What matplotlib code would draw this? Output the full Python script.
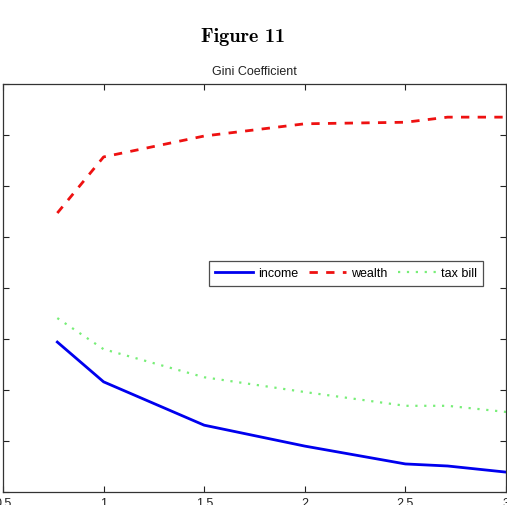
import numpy as np
import matplotlib
matplotlib.use("Agg")
import matplotlib.pyplot as plt

# parameter values on the x axis
x_vals = [0.77, 1.0, 1.5, 2.0, 2.5, 2.71, 3.0]

# gini coefficients
income = [0.494, 0.416, 0.331, 0.290, 0.255, 0.251, 0.239]
wealth = [0.747, 0.857, 0.898, 0.922, 0.925, 0.935, 0.935]
tax_bill = [0.541, 0.480, 0.425, 0.396, 0.369, 0.369, 0.357]

x_ticks = [0.5, 1, 1.5, 2, 2.5, 3]
x_tick_labels = ["0.5", "1", "1.5", "2", "2.5", "3"]
y_ticks = [0.2, 0.3, 0.4, 0.5, 0.6, 0.7, 0.8, 0.9, 1.0]

plt.rcParams["font.family"] = ["Liberation Sans", "DejaVu Sans"]

W, H = 507, 506
fig = plt.figure(figsize=(W / 100, H / 100), dpi=100)
ax = fig.add_axes([3 / W, 1 - 493 / H, 503 / W, 408 / H])

ax.plot(x_vals, income, color="#0000ee", lw=2.0, label="income")
ax.plot(x_vals, wealth, color="#ee1111", lw=2.0, ls=(0, (3, 3)), label="wealth")
ax.plot(x_vals, tax_bill, color="#77ee77", lw=1.6, ls=(0, (1, 3)), label="tax bill")

ax.set_xlim(0.5, 3)
ax.set_ylim(0.2, 1.0)
ax.set_xticks(x_ticks)
ax.set_xticklabels(x_tick_labels)
ax.set_yticks(y_ticks)
ax.tick_params(direction="in", top=True, right=True, length=4, width=0.8,
               labelsize=9, colors="#222222")
for s in ax.spines.values():
    s.set_linewidth(0.9)
    s.set_color("#333333")

ax.set_title("Gini Coefficient", fontsize=9, pad=7, color="#222222")

leg = ax.legend(loc="center", bbox_to_anchor=(0.682, 0.536), ncol=3,
                fontsize=9, frameon=True, fancybox=False, handlelength=3.0,
                handletextpad=0.4, columnspacing=0.85, borderpad=0.5,
                borderaxespad=0)
leg.get_frame().set_edgecolor("#222222")
leg.get_frame().set_linewidth(0.9)

fig.text(243 / W, 1 - 37 / H, "Figure 11", ha="center", va="center",
         fontsize=14.5, family="cmb10")

fig.savefig("out.png", dpi=100)
